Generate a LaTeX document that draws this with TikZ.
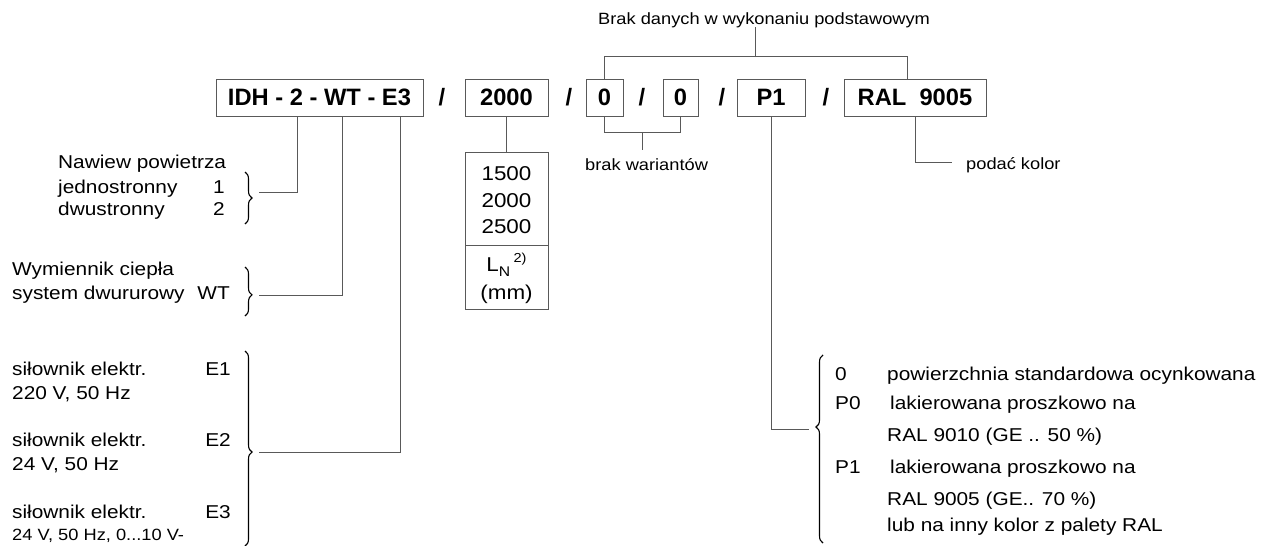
\documentclass[tikz,border=0pt]{standalone}
\usepackage{fontspec}
\setmainfont{Liberation Sans}
\newfontfamily\nf{Liberation Sans}[FakeStretch=1.12]
\usetikzlibrary{decorations.pathreplacing}
\tikzset{
  ln/.style={draw=black!65, line width=1pt},
  box/.style={draw=black!65, line width=1pt, minimum height=37pt, inner sep=0pt, font=\fontsize{23.7}{28}\selectfont\bfseries},
  sl/.style={inner sep=0pt, font=\fontsize{23.7}{28}\selectfont\bfseries},
  txt/.style={inner sep=0pt, anchor=base west, font=\nf\fontsize{18.6}{22}\selectfont},
  txtr/.style={txt, anchor=base east},
  sm/.style={inner sep=0pt, anchor=base west, font=\nf\fontsize{16.3}{19}\selectfont},
  num/.style={inner sep=0pt, anchor=base, font=\nf\fontsize{20}{24}\selectfont},
  valbox/.style={draw=black!65, line width=1pt, inner sep=0pt, minimum width=83pt},
  brc/.style={draw=black, line width=1.1pt, decorate, decoration={brace, amplitude=7pt, #1}},
  brc/.default={aspect=0.5},
}
\begin{document}
\begin{tikzpicture}[x=1pt,y=-1pt]
\useasboundingbox (0,0) rectangle (1266,546);

% top code boxes
\node[box, minimum width=207pt] (main) at (319.5,97.5) {IDH - 2 - WT - E3};
\node[sl] (s1) at (442,97.5) {/};
\node[box, minimum width=83pt] (b2000) at (506.5,97.5) {2000};
\node[sl] (s2) at (569,97.5) {/};
\node[box, minimum width=37pt] (b0a) at (604.5,97.5) {0};
\node[sl] (s3) at (642,97.5) {/};
\node[box, minimum width=35pt] (b0b) at (680.5,97.5) {0};
\node[sl] (s4) at (722,97.5) {/};
\node[box, minimum width=68pt] (bP1) at (771,97.5) {P1};
\node[sl] (s5) at (826,97.5) {/};
\node[box, minimum width=142pt] (bRAL) at (915,97.5) {RAL\ \ 9005};

% length box
\node[valbox, minimum height=93pt] (vals) at (506.5,198.5) {};
\node[valbox, minimum height=64pt] (unit) at (506.5,277) {};
\node[num] (v1) at (506.5,180) {1500};
\node[num] (v2) at (506.5,207) {2000};
\node[num] (v3) at (506.5,233) {2500};
\node[num] (ln) at (506.5,271) {L\raisebox{-0.25em}{\fontsize{14}{14}\selectfont N}\,\raisebox{0.45em}{\fontsize{13}{13}\selectfont 2)}};
\node[num] (mm) at (506.5,299) {(mm)};

% top labels
\node[sm] (brak) at (598,24) {Brak danych w wykonaniu podstawowym};
\node[sm] (bw) at (585,170) {brak wariantów};
\node[sm] (pk) at (966,169) {podać kolor};

% left texts
\node[txt] (n1) at (58,168) {Nawiew powietrza};
\node[txt] (n2) at (58,193) {jednostronny};
\node[txtr] (n2r) at (225,193) {1};
\node[txt] (n3) at (58,215) {dwustronny};
\node[txtr] (n3r) at (225,215) {2};
\node[txt] (w1) at (12,275) {Wymiennik ciepła};
\node[txt] (w2) at (12,299) {system dwururowy};
\node[txtr] (w2r) at (230,299) {WT};
\node[txt] (e1) at (12,375) {siłownik elektr.};
\node[txtr] (e1r) at (231,375) {E1};
\node[txt] (e1b) at (12,399) {220 V, 50 Hz};
\node[txt] (e2) at (12,446) {siłownik elektr.};
\node[txtr] (e2r) at (231,446) {E2};
\node[txt] (e2b) at (12,470) {24 V, 50 Hz};
\node[txt] (e3) at (12,518) {siłownik elektr.};
\node[txtr] (e3r) at (231,518) {E3};
\node[sm] (e3b) at (12,540) {24 V, 50 Hz, 0...10 V-};

% right texts
\node[txt] (r1a) at (835,380) {0};
\node[txt] (r1) at (887,380) {powierzchnia standardowa ocynkowana};
\node[txt] (r2a) at (835,409) {P0};
\node[txt] (r2) at (890,409) {lakierowana proszkowo na};
\node[txt] (r3) at (887,441) {RAL 9010 (GE .. 50 \%)};
\node[txt] (r4a) at (835,473) {P1};
\node[txt] (r4) at (890,473) {lakierowana proszkowo na};
\node[txt] (r5) at (887,505) {RAL 9005 (GE.. 70 \%)};
\node[txt] (r6) at (887,531) {lub na inny kolor z palety RAL};

% connector ends
\coordinate (t1) at (259,192);
\coordinate (t2) at (259,295);
\coordinate (t3) at (259,452);
\coordinate (t4) at (809,429);
\coordinate (tp) at (952,162);
\coordinate (mb) at (642,132);
\coordinate (mbe) at (642,150);
\coordinate (mt) at (755,57);
\coordinate (mte) at (755,27);

% connectors
\draw[ln] ([xshift=-22.5pt]main.south) |- (t1);
\draw[ln] ([xshift=22.5pt]main.south) |- (t2);
\draw[ln] ([xshift=80.5pt]main.south) |- (t3);
\draw[ln] (b2000.south) -- (vals.north);
\draw[ln] (b0a.south) -- ++(0,16) -| (b0b.south);
\draw[ln] (mb) -- (mbe);
\draw[ln] (b0a.north) -- ++(0,-22) -| ([xshift=-8pt]bRAL.north);
\draw[ln] (mt) -- (mte);
\draw[ln] (bRAL.south) |- (tp);
\draw[ln] (bP1.south) |- (t4);

% braces
\draw[brc] (245,172) -- (245,224);
\draw[brc={aspect=0.57}] (245,267) -- (245,316);
\draw[brc={aspect=0.518}] (245,351) -- (245,546);
\draw[brc={aspect=0.617}] (823,543) -- (823,355);
\end{tikzpicture}
\end{document}
